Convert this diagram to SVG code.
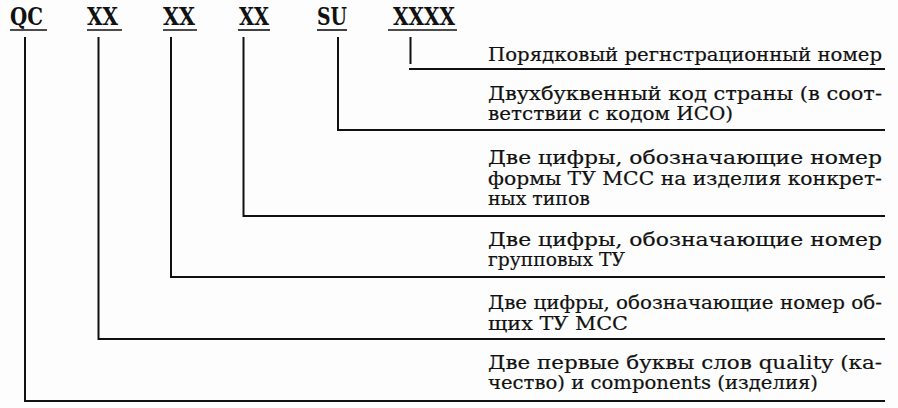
<svg xmlns="http://www.w3.org/2000/svg" width="898" height="408" viewBox="0 0 898 408">
<style>
.code{font-family:"DejaVu Serif","Liberation Serif",serif;font-weight:bold;font-size:25px;fill:#111}
.t{font-family:"DejaVu Serif","Liberation Serif",serif;font-size:19px;fill:#111;stroke:#111;stroke-width:0.2}
.ul{stroke:#111;stroke-width:1.6;fill:none}
.ln{stroke:#111;stroke-width:2;fill:none;stroke-linejoin:miter}
</style>
<rect width="898" height="408" fill="#fdfdfd"/>
<g id="codes">
<g id="code-qc"><text class="code" x="10" y="25" textLength="33" lengthAdjust="spacingAndGlyphs">QC</text><line class="ul" x1="10" y1="30" x2="47" y2="30"/></g>
<g id="code-xx1"><text class="code" x="87" y="25" textLength="31" lengthAdjust="spacingAndGlyphs">XX</text><line class="ul" x1="87" y1="30" x2="122" y2="30"/></g>
<g id="code-xx2"><text class="code" x="163" y="25" textLength="32" lengthAdjust="spacingAndGlyphs">XX</text><line class="ul" x1="163" y1="30" x2="197" y2="30"/></g>
<g id="code-xx3"><text class="code" x="239" y="25" textLength="30" lengthAdjust="spacingAndGlyphs">XX</text><line class="ul" x1="238" y1="30" x2="270" y2="30"/></g>
<g id="code-su"><text class="code" x="317" y="25" textLength="30" lengthAdjust="spacingAndGlyphs">SU</text><line class="ul" x1="317" y1="30" x2="347" y2="30"/></g>
<g id="code-xxxx"><text class="code" x="393" y="25" textLength="62" lengthAdjust="spacingAndGlyphs">XXXX</text><line class="ul" x1="388" y1="30" x2="457" y2="30"/></g>
</g>
<g id="desc-1"><text class="t" x="488" y="61" textLength="394" lengthAdjust="spacingAndGlyphs">Порядковый регнстрационный номер</text></g>
<g id="desc-2"><text class="t" x="488" y="100" textLength="394" lengthAdjust="spacingAndGlyphs">Двухбуквенный код страны (в соот-</text><text class="t" x="488" y="120" textLength="245" lengthAdjust="spacingAndGlyphs">ветствии с кодом ИСО)</text></g>
<g id="desc-3"><text class="t" x="488" y="164" textLength="394" lengthAdjust="spacingAndGlyphs">Две цифры, обозначающие номер</text><text class="t" x="488" y="185" textLength="394" lengthAdjust="spacingAndGlyphs">формы ТУ МСС на изделия конкрет-</text><text class="t" x="488" y="205" textLength="102" lengthAdjust="spacingAndGlyphs">ных типов</text></g>
<g id="desc-4"><text class="t" x="488" y="246" textLength="394" lengthAdjust="spacingAndGlyphs">Две цифры, обозначающие номер</text><text class="t" x="488" y="266" textLength="137" lengthAdjust="spacingAndGlyphs">групповых ТУ</text></g>
<g id="desc-5"><text class="t" x="488" y="309" textLength="394" lengthAdjust="spacingAndGlyphs">Две цифры, обозначающие номер об-</text><text class="t" x="488" y="330" textLength="140" lengthAdjust="spacingAndGlyphs">щих ТУ МСС</text></g>
<g id="desc-6"><text class="t" x="488" y="369" textLength="394" lengthAdjust="spacingAndGlyphs">Две первые буквы слов quality (ка-</text><text class="t" x="488" y="389" textLength="330" lengthAdjust="spacingAndGlyphs">чество) и components (изделия)</text></g>
<g id="connectors">
<path class="ln" d="M410.5,37 V64 M409,69 H885"/>
<path class="ln" d="M338,37 V130 H885"/>
<path class="ln" d="M243.5,37 V216 H885"/>
<path class="ln" d="M171,37 V277 H885"/>
<path class="ln" d="M98.5,37 V339 H885"/>
<path class="ln" d="M25,37 V401 H885"/>
</g>
</svg>
